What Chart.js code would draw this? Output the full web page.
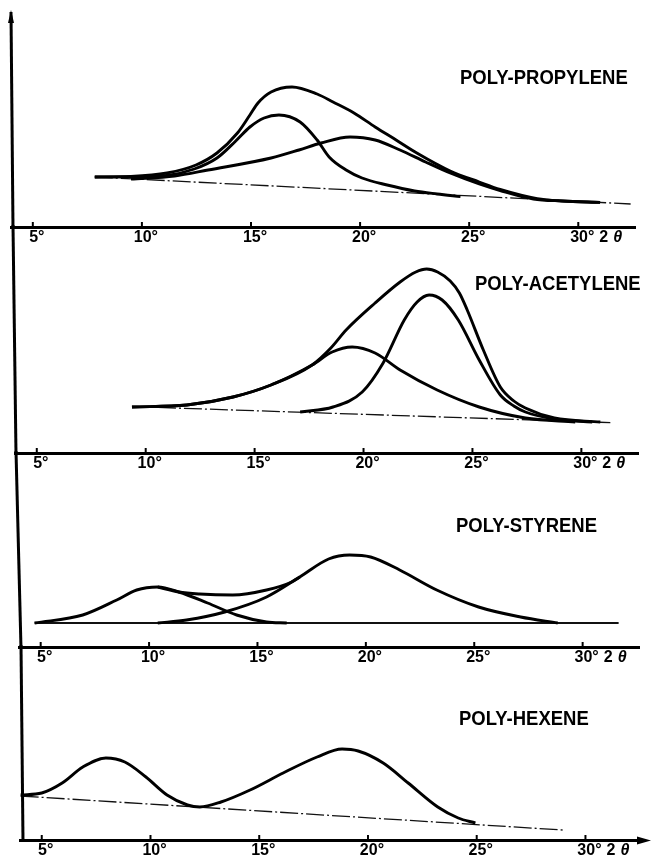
<!DOCTYPE html>
<html><head><meta charset="utf-8">
<script src="https://cdn.jsdelivr.net/npm/chart.js@4/dist/chart.umd.min.js"></script>
<style>
html,body{margin:0;padding:0;background:#fff;width:652px;height:862px;overflow:hidden;position:relative}
canvas{position:absolute;left:0}
</style></head><body>
<script>
// ---------- DATA ----------
const xTicks = [5, 10, 15, 20, 25, 30];
const xTickLabels = ['5°', '10°', '15°', '20°', '25°', '30°'];
const unitDigit = '2';
const unitSymbol = 'θ';
const panelNames = ['POLY-PROPYLENE', 'POLY-ACETYLENE', 'POLY-STYRENE', 'POLY-HEXENE'];

// Poly-propylene (2θ, intensity)
const ppTotal = [[7.84,25],[9.5,25.3],[11.15,27],[12.48,31],[13.44,37],[14.38,47],[14.95,56],[15.32,62],[15.92,67.5],[16.88,70],[18.03,66.5],[18.76,62.5],[19.72,57],[20.69,50],[21.65,43.5],[22.6,37],[24.13,28],[25.46,22.5],[26.42,18.8],[28.12,14.2],[29.27,13],[31.0,12.3]];
const ppComp1 = [[7.84,25],[9.5,25.1],[11.15,25.8],[12.4,29],[13.44,34.5],[14.3,43],[14.95,50],[15.6,54.5],[16.28,56],[17.25,52.5],[18.03,43.5],[18.58,35],[19.36,28.5],[20.09,24.5],[21.24,21],[22.5,18],[23.53,16.5],[24.6,15.2]];
const ppComp2 = [[9.5,24],[11.5,25.5],[13.03,28.5],[15.92,34.5],[17.2,38.5],[18.21,42],[19.54,45],[20.69,43.5],[21.83,38.5],[23.0,32.5],[24.13,27],[25.46,21.5],[26.42,18.2],[27.94,14],[29.27,13],[31.0,12.3]];
const ppBase = [[7.84,25],[32.4,11.5]];

// Poly-acetylene
const paTotal = [[9.37,23],[11.89,24],[14.01,28],[15.75,34],[17.64,44],[18.5,52.5],[19.2,61.5],[20.53,75],[21.68,85.5],[22.4,90.5],[22.9,92],[23.4,90.5],[23.98,86],[24.4,80],[24.76,71.5],[25.5,51.5],[26.28,33],[26.9,26],[27.43,22.5],[28.76,17.5],[30.87,15.5]];
const paCompA = [[9.37,23],[11.89,24],[14.01,28],[15.75,34],[17.64,44],[18.56,50.5],[19.48,53],[20.53,50],[21.68,41.5],[23.38,31.5],[25.31,23],[27.43,17.5],[29.72,15.5]];
const paCompB = [[17.09,20.5],[18.6,23],[19.94,30.5],[20.9,45],[21.87,66.5],[22.46,75.5],[23.01,79],[23.61,76.5],[24.35,66.5],[25.31,46.5],[26.28,29],[26.9,23.5],[27.43,20.5],[28.76,17],[30.5,15.5]];
const paBase = [[9.37,23.2],[31.33,15.2]];

// Poly-styrene
const psCompA = [[4.72,12],[6.94,16],[8.51,23.5],[9.43,28.5],[10.4,30],[11.37,27.5],[12.7,22],[14.04,16],[15.42,12.5],[16.35,12]];
const psCompB = [[10.4,12],[11.73,13.5],[13.49,17.5],[15.42,25],[16.95,35],[18.28,44],[19.25,46],[20.22,45],[21.56,38.5],[23.27,28.5],[25.2,20],[27.14,15],[28.85,12]];
const psTotal = [[10.4,30],[11.37,27.5],[12.33,26.5],[13.86,26],[15.42,28.5],[16.58,32.5],[16.95,35]];
const psBase = [[4.72,12],[31.66,12]];

// Poly-hexene
const phTotal = [[4.03,22.5],[5.0,23.5],[5.94,28.5],[6.89,36.5],[7.95,41],[8.82,39],[9.79,31.5],[10.76,22.5],[11.7,17.5],[12.27,16.5],[13.24,19],[14.58,25],[16.1,33.5],[17.66,41.5],[18.81,45.5],[19.55,44.5],[20.7,38.5],[21.85,28.5],[23.21,16.5],[24.15,11],[24.94,8.5]];
const phBase = [[4.03,22],[28.96,5]];

// ---------- LAYOUT ----------
const panels = [
  {L:11, R:635, top:10,  bottom:227, axTop:11, axBot:13, curves:[ppTotal, ppComp1, ppComp2], base:ppBase, baseSolid:false, nx:460, ny:78},
  {L:15, R:638, top:227, bottom:453, axTop:13, axBot:16, curves:[paTotal, paCompA, paCompB], base:paBase, baseSolid:false, nx:475, ny:284},
  {L:19, R:639, top:453, bottom:647, axTop:16, axBot:21, curves:[psCompA, psCompB, psTotal], base:psBase, baseSolid:true, nx:456, ny:526},
  {L:20, R:642, top:647, bottom:840, axTop:21, axBot:23, curves:[phTotal], base:phBase, baseSolid:false, nx:459, ny:719}
];
const PADTOP = 8, AXISH = 24, W = 652;
const FONT = '"Liberation Sans", Arial, sans-serif';

panels.forEach((p, i) => {
  const c = document.createElement('canvas');
  const h = (p.bottom - p.top) + PADTOP + AXISH;
  c.width = W; c.height = h;
  c.style.top = (p.top - PADTOP) + 'px';
  c.style.width = W + 'px'; c.style.height = h + 'px';
  document.body.appendChild(c);

  const ds = p.curves.map(arr => ({
    data: arr.map(([x, y]) => ({x, y})),
    borderColor: '#000', borderWidth: 2.9, pointRadius: 0, fill: false,
    cubicInterpolationMode: 'monotone'
  }));
  ds.push({
    data: p.base.map(([x, y]) => ({x, y})),
    borderColor: '#111', borderWidth: p.baseSolid ? 2.2 : 1.3,
    borderDash: p.baseSolid ? [] : [18, 3, 2, 3],
    pointRadius: 0, fill: false, tension: 0
  });

  const deco = {
    id: 'deco' + i,
    afterDraw(chart) {
      const ctx = chart.ctx, a = chart.chartArea, xs = chart.scales.x;
      const off = PADTOP - p.top; // page y -> canvas y
      ctx.save();
      ctx.strokeStyle = '#000'; ctx.fillStyle = '#000';
      // vertical axis (slightly slanted like the scan)
      ctx.lineWidth = 3;
      ctx.beginPath();
      ctx.moveTo(p.axTop, (i === 0 ? p.top + 2 : p.top - 2) + off);
      ctx.lineTo(p.axBot, p.bottom + 1.5 + off);
      ctx.stroke();
      if (i === 0) {
        ctx.beginPath();
        ctx.moveTo(p.axTop, p.top + off);
        ctx.lineTo(p.axTop - 3, p.top + 13 + off);
        ctx.lineTo(p.axTop + 3, p.top + 13 + off);
        ctx.closePath(); ctx.fill();
      }
      // axis stub between slanted vertical line and chart area
      ctx.beginPath(); ctx.moveTo(Math.min(p.axBot, a.left), a.bottom + 0.5); ctx.lineTo(a.left + 2, a.bottom + 0.5); ctx.stroke();
      // tick marks (upward)
      ctx.lineWidth = 2;
      xTicks.forEach(v => {
        const px = xs.getPixelForValue(v);
        ctx.beginPath(); ctx.moveTo(px, a.bottom); ctx.lineTo(px, a.bottom - 5); ctx.stroke();
      });
      // right arrow on the last axis
      if (i === 3) {
        ctx.lineWidth = 3;
        ctx.beginPath(); ctx.moveTo(a.right - 2, a.bottom + 0.5); ctx.lineTo(640, a.bottom + 0.5); ctx.stroke();
        ctx.beginPath();
        ctx.moveTo(651, a.bottom + 0.5); ctx.lineTo(637, a.bottom - 3.5); ctx.lineTo(637, a.bottom + 4.5);
        ctx.closePath(); ctx.fill();
      }
      // 2θ unit after 30°
      const t30 = xs.getPixelForValue(30);
      ctx.textBaseline = 'top'; ctx.textAlign = 'left';
      ctx.font = 'bold 16px ' + FONT;
      ctx.fillText(unitDigit, t30 + 21, a.bottom + 3);
      ctx.font = 'italic bold 16px ' + FONT;
      ctx.fillText(unitSymbol, t30 + 35, a.bottom + 3);
      // panel name (condensed bold)
      ctx.font = 'bold 21px ' + FONT;
      ctx.textBaseline = 'middle';
      ctx.translate(p.nx, p.ny + off);
      ctx.scale(0.88, 1);
      ctx.fillText(panelNames[i], 0, 0);
      ctx.restore();
    }
  };

  new Chart(c, {
    type: 'line',
    data: { datasets: ds },
    options: {
      responsive: false, animation: false, devicePixelRatio: 1,
      layout: { padding: { left: p.L, right: W - p.R, top: PADTOP, bottom: 0 } },
      plugins: { legend: { display: false }, tooltip: { enabled: false }, title: { display: false } },
      scales: {
        x: {
          type: 'linear', min: 4, max: 32.6,
          afterBuildTicks: s => { s.ticks = xTicks.map(v => ({value: v})); },
          afterFit: s => { s.height = AXISH; },
          grid: { display: false, drawTicks: false },
          border: { display: true, color: '#000', width: 3 },
          ticks: {
            autoSkip: false, maxRotation: 0, padding: 1, labelOffset: 4, color: '#000',
            font: { family: FONT, size: 16, weight: 'bold' },
            callback: v => xTickLabels[xTicks.indexOf(v)] ?? ''
          }
        },
        y: { display: false, min: 0, max: (p.bottom - p.top) / 2 }
      }
    },
    plugins: [deco]
  });
});
</script>
</body></html>
